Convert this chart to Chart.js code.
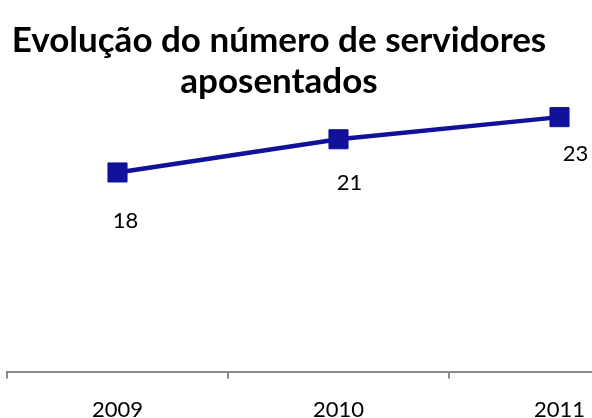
<!DOCTYPE html>
<html>
<head>
<meta charset="utf-8">
<script src="https://cdn.jsdelivr.net/npm/chart.js@4.4.1/dist/chart.umd.min.js"></script>
<style>
    html, body { margin: 0; padding: 0; background: #fff; }
    #wrap { position: relative; width: 592px; height: 418px; overflow: hidden; }
    #grafico { position: absolute; left: 0; top: 0; }
    #titulo {
        position: absolute; left: 0; top: 18px; width: 558px;
        text-align: center; color: #000;
        font: bold 35px Lato, "Open Sans", sans-serif; line-height: 41px;
    }
</style>
</head>
<body>
<div id="wrap">
    <canvas id="grafico" width="680" height="458"></canvas>
    <div id="titulo">Evolução do número de servidores<br>aposentados</div>
</div>
<script>
// Dados do gráfico
const anos = ['2009', '2010', '2011'];
const aposentados = [18, 21, 23];

// Deslocamento dos rótulos de dados (como estavam no original)
const rotuloDx = [8, 11, 16];
const rotuloDy = [48, 44, 37];

const azul = '#11119A';
const cinza = '#8A8A8A';

// Plugin simples para os rótulos abaixo dos pontos
const rotulos = {
    id: 'rotulos',
    afterDatasetsDraw(chart) {
        const ctx = chart.ctx;
        const meta = chart.getDatasetMeta(0);
        ctx.save();
        ctx.font = '22px Lato, "Open Sans", sans-serif';
        ctx.fillStyle = '#000';
        ctx.textAlign = 'center';
        ctx.textBaseline = 'middle';
        meta.data.forEach(function (pt, i) {
            ctx.fillText(String(aposentados[i]), pt.x + rotuloDx[i], pt.y + rotuloDy[i]);
        });
        ctx.restore();
    }
};

const ctx = document.getElementById('grafico').getContext('2d');
new Chart(ctx, {
    type: 'line',
    data: {
        labels: anos,
        datasets: [{
            label: 'Servidores aposentados',
            data: aposentados,
            borderColor: azul,
            backgroundColor: azul,
            borderWidth: 4.5,
            pointStyle: 'rect',
            pointRadius: 13.5,
            pointBorderWidth: 1,
            pointHoverRadius: 13.5,
            tension: 0
        }]
    },
    options: {
        responsive: false,
        animation: false,
        layout: {
            autoPadding: false,
            padding: { left: 7, right: 10, top: 95, bottom: 17 }
        },
        plugins: {
            legend: { display: false },
            title: { display: false },
            tooltip: { enabled: false }
        },
        scales: {
            x: {
                offset: true,
                grid: {
                    offset: true,
                    drawOnChartArea: false,
                    drawTicks: true,
                    tickLength: 7,
                    color: cinza,
                    lineWidth: 2
                },
                border: { display: true, color: cinza, width: 2 },
                ticks: {
                    color: '#000',
                    padding: 18,
                    font: { family: 'Lato, "Open Sans", sans-serif', size: 22 }
                }
            },
            y: {
                display: false,
                min: 0,
                max: 25
            }
        }
    },
    plugins: [rotulos]
});
</script>
</body>
</html>
